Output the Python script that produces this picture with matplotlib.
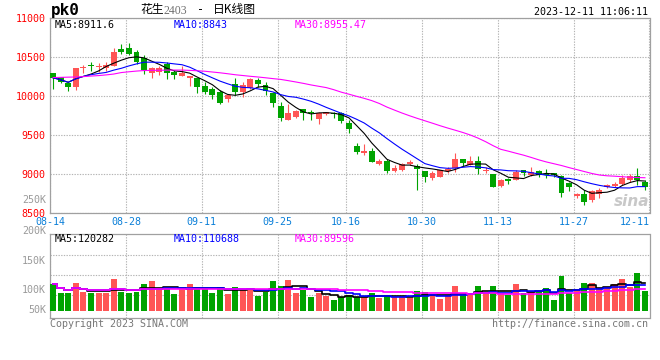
import numpy as np
import pandas as pd
import matplotlib
matplotlib.use("Agg")
import matplotlib.pyplot as plt
from matplotlib.transforms import ScaledTranslation

# ---- data ----
opens = [10297, 10243, 10166, 10115, 10360, 10400, 10375, 10360, 10392, 10607,
         10616, 10572, 10495, 10302, 10307, 10410, 10307, 10264, 10238, 10230,
         10135, 10089, 10050, 9960, 10157, 10058, 10110, 10208, 10144, 10037,
         9874, 9694, 9729, 9835, 9800, 9707, 9767, 9790, 9789, 9660,
         9360, 9274, 9300, 9129, 9171, 9039, 9052, 9129, 9103, 9043,
         8958, 8966, 9043, 9086, 9190, 9116, 9171, 9043, 9009, 8846,
         8937, 8932, 9052, 8988, 9039, 9000, 9017, 8975, 8889, 8718,
         8752, 8666, 8752, 8837, 8846, 8870, 8923, 8975, 8900]
highs = [10305, 10250, 10190, 10360, 10400, 10444, 10430, 10440, 10616, 10667,
         10680, 10590, 10530, 10380, 10388, 10444, 10337, 10392, 10260, 10235,
         10187, 10122, 10080, 10016, 10230, 10187, 10230, 10230, 10187, 10050,
         9930, 9896, 9823, 9840, 9830, 9800, 9805, 9800, 9800, 9694,
         9395, 9386, 9340, 9200, 9200, 9115, 9140, 9180, 9129, 9043,
         9039, 9060, 9090, 9270, 9190, 9235, 9235, 9090, 9009, 8940,
         8950, 9060, 9060, 9090, 9050, 9070, 9017, 8990, 8900, 8760,
         8800, 8800, 8820, 8880, 8900, 8985, 9000, 9075, 8923]
lows = [10089, 10174, 10064, 10085, 10300, 10328, 10318, 10330, 10385, 10540,
        10530, 10420, 10282, 10240, 10273, 10218, 10221, 10264, 10135, 10045,
        10029, 9960, 9900, 9930, 10016, 9986, 10100, 10118, 10016, 9865,
        9686, 9694, 9720, 9690, 9690, 9643, 9760, 9720, 9660, 9523,
        9266, 9245, 9159, 9115, 9017, 9030, 9040, 9120, 8795, 8905,
        8924, 8966, 9020, 9035, 9100, 9116, 9005, 9010, 8830, 8830,
        8870, 8925, 8980, 8980, 8960, 8950, 8960, 8710, 8790, 8700,
        8610, 8640, 8700, 8820, 8830, 8860, 8900, 8860, 8795]
closes = [10238, 10187, 10115, 10359, 10380, 10385, 10390, 10400, 10572, 10572,
          10543, 10444, 10337, 10359, 10367, 10294, 10273, 10294, 10260, 10115,
          10058, 10016, 9917, 10016, 10058, 10144, 10217, 10157, 10067, 9909,
          9716, 9780, 9814, 9780, 9780, 9780, 9800, 9775, 9686, 9575,
          9287, 9300, 9159, 9171, 9043, 9082, 9129, 9163, 9065, 8966,
          9017, 9052, 9073, 9202, 9146, 9171, 9073, 9060, 8837, 8923,
          8915, 9030, 9017, 9030, 8988, 8990, 8988, 8760, 8830, 8752,
          8645, 8786, 8804, 8860, 8880, 8946, 8975, 8932, 8830]
# 30-day average as drawn (needs history before the window)
ma30 = [10241, 10243, 10246, 10248, 10253, 10260, 10266, 10275, 10286, 10305,
        10315, 10324, 10331, 10333, 10334, 10336, 10337, 10337, 10333, 10328,
        10322, 10312, 10302, 10290, 10277, 10267, 10257, 10248, 10238, 10227,
        10217, 10201, 10184, 10166, 10146, 10129, 10112, 10085, 10053, 10027,
        10000, 9974, 9945, 9908, 9862, 9823, 9785, 9750, 9717, 9686,
        9655, 9623, 9593, 9565, 9536, 9503, 9464, 9418, 9366, 9320,
        9296, 9270, 9245, 9216, 9185, 9158, 9135, 9112, 9085, 9060,
        9035, 9010, 8990, 8980, 8975, 8968, 8962, 8958, 8955]
# volume in thousands
volumes = [115, 93, 93, 117, 96, 93, 93, 93, 127, 96,
           93, 96, 115, 122, 104, 104, 90, 105, 115, 107,
           102, 92, 107, 90, 107, 103, 102, 85, 96, 122,
           110, 125, 92, 101, 82, 92, 84, 75, 82, 88,
           82, 82, 93, 81, 87, 82, 82, 80, 97, 95,
           87, 77, 87, 110, 87, 87, 110, 90, 110, 90,
           87, 115, 92, 95, 97, 105, 75, 135, 92, 97,
           117, 117, 105, 107, 115, 127, 107, 142, 98]

date_labels = ["08-14", "08-28", "09-11", "09-25", "10-16", "10-30", "11-13", "11-27", "12-11"]
date_index = [0, 10, 20, 30, 39, 49, 59, 69, 78]
price_ticks = [8500, 9000, 9500, 10000, 10500, 11000]
price_ma_text = ["MA5:8911.6", "MA10:8843", "MA30:8955.47"]
vol_ma_text = ["MA5:120282", "MA10:110688", "MA30:89596"]
vol_tick_labels = ["250K", "200K", "150K", "100K", "50K"]

# ---- style ----
W, H = 660, 360
RED = "#ff5555"
GREEN = "#00a300"
GRID = "#b4b4b4"
FRAME = "#a0a0a0"
MONO = "DejaVu Sans Mono"
FS = 7.2
MA_COLORS = ["black", "#0000ff", "#ff00ff"]


def fx(px):
    return px / W


def fy(py):
    return 1 - py / H


plt.rcParams["font.family"] = ["Noto Sans CJK SC", "DejaVu Sans"]

fig = plt.figure(figsize=(W / 100, H / 100), dpi=100)
fig.patch.set_facecolor("white")

# plot boxes in pixels: price 50..649.5 x 18.4..213.2, volume 234.3..318.3
ax = fig.add_axes([fx(50), fy(213.2), fx(599.5), (213.2 - 18.4) / H])
axv = fig.add_axes([fx(50), fy(318.3), fx(599.5), (318.3 - 234.3) / H])

n = len(closes)
x = np.arange(n)
o = np.array(opens)
c = np.array(closes)
up = c >= o
colors = np.where(up, RED, GREEN)

s_close = pd.Series(closes, dtype=float)
ma5 = s_close.rolling(5, min_periods=1).mean()
ma10 = s_close.rolling(10, min_periods=1).mean()

# ---- price panel ----
ax.vlines(x, lows, highs, colors=colors, linewidth=0.8, zorder=3)
body_h = np.maximum(np.abs(c - o), 14)
ax.bar(x, body_h, bottom=np.minimum(o, c), width=0.78, color=colors,
       linewidth=0, zorder=4)
for vals, col in zip([ma5, ma10, ma30], MA_COLORS):
    ax.plot(x, vals, color=col, linewidth=0.8, zorder=5)

ax.set_xlim(-0.4, 78.6)
ax.set_ylim(8500, 11000)
ax.set_yticks(price_ticks)
ax.set_yticklabels([str(t) for t in price_ticks], color="red",
                   fontsize=FS, family=MONO)
for lab in ax.get_yticklabels():
    lab.set_transform(lab.get_transform() +
                      ScaledTranslation(0, 0.02, fig.dpi_scale_trans))

grid_pos = [i - 0.4 for i in date_index[:-1]] + [78.6]
ax.set_xticks(grid_pos)
ax.set_xticklabels(date_labels, color="#0a7fd8", fontsize=FS, family=MONO)
ax.get_xticklabels()[-1].set_horizontalalignment("right")
ax.tick_params(length=0, pad=3)
ax.grid(True, color=GRID, linestyle=(0, (1.2, 1.2)), linewidth=0.8, zorder=0)
ax.set_axisbelow(True)
for sp in ax.spines.values():
    sp.set_color(FRAME)
    sp.set_linewidth(0.9)

for txt, col, px in zip(price_ma_text, MA_COLORS, [55, 174, 295]):
    ax.text(fx(px) , fy(24.5), txt, transform=fig.transFigure, color=col,
            fontsize=FS, family=MONO, va="center", ha="left")

ax.text(1.0, 0.06, "sina", transform=ax.transAxes, ha="right", va="center",
        fontsize=11, fontweight="bold", style="italic", color="#c8c8c8",
        family="DejaVu Sans", zorder=2)

# ---- volume panel ----
vol = np.array(volumes, dtype=float)
vol_base = 48
axv.bar(x, vol - vol_base, bottom=vol_base, width=0.78, color=colors,
        linewidth=0, zorder=3)
s_vol = pd.Series(volumes, dtype=float)
for win, col in zip([5, 10, 30], MA_COLORS):
    axv.plot(x, s_vol.rolling(win, min_periods=1).mean(), color=col,
             linewidth=1.2, drawstyle="steps-mid", zorder=4)
axv.set_xlim(-0.4, 78.6)
axv.set_ylim(29.25, 239.25)
axv.set_xticks(grid_pos[:-1])
axv.set_xticklabels([])
axv.set_yticks([87.5, 137.5, 187.5])
axv.set_yticklabels([])
axv.tick_params(length=0)
axv.grid(True, color=GRID, linestyle=(0, (1.2, 1.2)), linewidth=0.8, zorder=0)
axv.set_axisbelow(True)
for sp in axv.spines.values():
    sp.set_color(FRAME)
    sp.set_linewidth(0.9)

for txt, col, px in zip(vol_ma_text, MA_COLORS, [55, 174, 295]):
    axv.text(fx(px), fy(239), txt, transform=fig.transFigure, color=col,
             fontsize=FS, family=MONO, va="center", ha="left")

for lab, py in zip(vol_tick_labels, [200, 231, 260.7, 290, 310]):
    fig.text(fx(46), fy(py), lab, color="#9a9a9a", fontsize=FS, family=MONO,
             ha="right", va="center")

# ---- header / footer ----
fig.text(fx(51), fy(11), "pk0", fontsize=11.5, fontweight="bold", family=MONO,
         ha="left", va="center", color="black")
fig.text(fx(140), fy(10), "花生", fontsize=8.5, ha="left", va="center")
fig.text(fx(163), fy(10.5), "2403", fontsize=8.5, ha="left", va="center",
         color="#707070", family="Liberation Serif")
fig.text(fx(201), fy(10), "-", fontsize=8.5, ha="center", va="center",
         family=MONO)
fig.text(fx(213), fy(10), "日K线图", fontsize=8.5, ha="left", va="center")
fig.text(fx(648), fy(12), "2023-12-11 11:06:11", fontsize=FS, family=MONO,
         ha="right", va="center")
fig.text(fx(50), fy(324), "Copyright 2023 SINA.COM", fontsize=FS, family=MONO,
         ha="left", va="center", color="#777777")
fig.text(fx(648), fy(324), "http://finance.sina.com.cn", fontsize=FS,
         family=MONO, ha="right", va="center", color="#777777")

fig.savefig("out.png", dpi=100, facecolor="white")
